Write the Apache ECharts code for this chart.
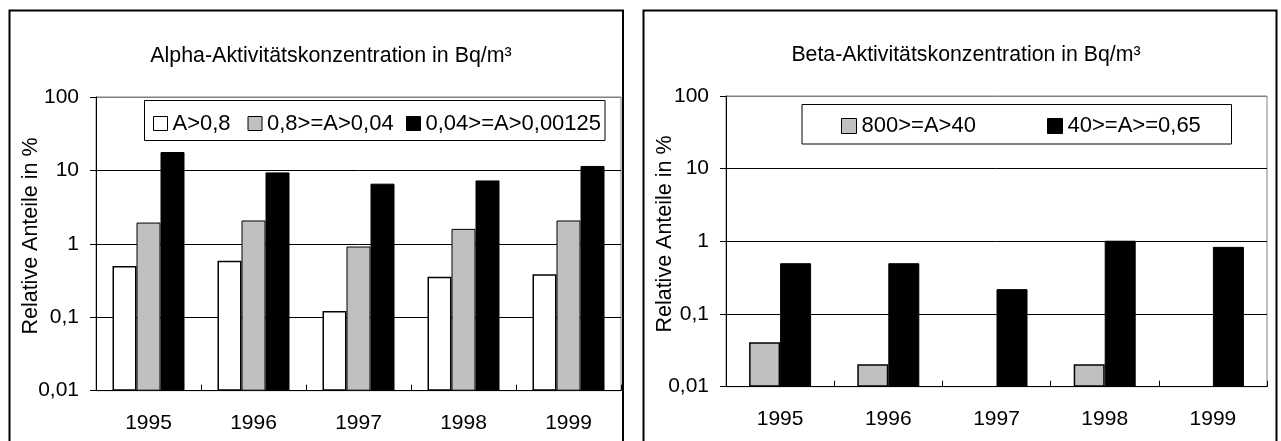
<!DOCTYPE html>
<html>
<head>
<meta charset="utf-8">
<script src="https://cdn.jsdelivr.net/npm/echarts@6/dist/echarts.min.js"></script>
<style>
  html, body { margin: 0; padding: 0; background: #fff; }
  #chart { width: 1281px; height: 441px; }
</style>
</head>
<body>
<div id="chart"></div>
<script>
// ---- data ----
const categories = ['1995', '1996', '1997', '1998', '1999'];
const alphaTitle = 'Alpha-Aktivitätskonzentration in Bq/m³';
const betaTitle = 'Beta-Aktivitätskonzentration in Bq/m³';
const yName = 'Relative Anteile in %';
const alphaNames = ['A>0,8', '0,8>=A>0,04', '0,04>=A>0,00125'];
const alphaWhite = [0.5, 0.59, 0.122, 0.355, 0.385];
const alphaGrey = [1.95, 2.08, 0.92, 1.6, 2.08];
const alphaBlack = [17.8, 9.4, 6.6, 7.3, 11.5];
const betaNames = ['800>=A>40', '40>=A>=0,65'];
const betaGrey = [0.041, 0.0203, null, 0.0203, null];
const betaBlack = [0.5, 0.5, 0.22, 1.02, 0.84];
const yTickValues = [0.01, 0.1, 1, 10, 100];
const yTickLabels = ['0,01', '0,1', '1', '10', '100'];

const FONT = '"Liberation Sans", Arial, Helvetica, sans-serif';
const WHITE = '#ffffff', GREY = '#c0c0c0', BLACK = '#000000';

function yLabel(v) {
  const i = yTickValues.findIndex(t => Math.abs(Math.log10(t) - Math.log10(v)) < 1e-6);
  return i >= 0 ? yTickLabels[i] : '';
}

function xAxisCfg(gridIndex) {
  return {
    type: 'category', gridIndex, data: categories, boundaryGap: true,
    axisLine: { lineStyle: { color: '#000', width: 1 } },
    axisTick: { show: true, inside: true, length: 6, lineStyle: { color: '#000' } },
    axisLabel: { color: '#000', fontSize: 21, fontFamily: FONT, margin: 22 },
    splitLine: { show: false }
  };
}
function yAxisCfg(gridIndex) {
  return {
    type: 'log', logBase: 10, gridIndex, min: 0.01, max: 100, startValue: 0.01,
    axisLine: { show: true, lineStyle: { color: '#000', width: 1 } },
    axisTick: { show: true, inside: false, length: 6, lineStyle: { color: '#000' } },
    minorTick: { show: false },
    axisLabel: { color: '#000', fontSize: 21, fontFamily: FONT, margin: 17, formatter: yLabel },
    splitLine: { show: true, lineStyle: { color: ['#000', '#000', '#000', '#000', '#808080'], width: 1 } }
  };
}
function barSeries(name, data, color, xi, width, bw) {
  return {
    type: 'bar', name, data, xAxisIndex: xi, yAxisIndex: xi,
    barWidth: width, barGap: '0%',
    itemStyle: { color, borderColor: '#000', borderWidth: bw },
    emphasis: { disabled: true },
    animation: false
  };
}
function legendItem(name, left, top, size) {
  return {
    data: [name], left, top, padding: 0, itemWidth: size, itemHeight: size,
    icon: 'rect', selectedMode: false, z: 6,
    itemStyle: { borderColor: '#000', borderWidth: 1 },
    textStyle: { color: '#000', fontSize: 22, fontFamily: FONT, lineHeight: size }
  };
}
function txt(text, x, y, rot, size) {
  return {
    type: 'text', x, y, rotation: rot, z: 10,
    style: { text, x: 0, y: 0, fill: '#000', fontSize: size, fontFamily: FONT,
             align: 'center', verticalAlign: 'middle', textAlign: 'center', textVerticalAlign: 'middle' }
  };
}

const chart = echarts.init(document.getElementById('chart'), null, { renderer: 'canvas' });
chart.setOption({
  animation: false,
  backgroundColor: '#fff',
  grid: [
    { left: 96, top: 97, width: 525, height: 293.7, show: true, borderColor: '#808080', borderWidth: 1, backgroundColor: 'transparent', containLabel: false },
    { left: 726, top: 96, width: 541, height: 290.7, show: true, borderColor: '#808080', borderWidth: 1, backgroundColor: 'transparent', containLabel: false }
  ],
  xAxis: [xAxisCfg(0), xAxisCfg(1)],
  yAxis: [yAxisCfg(0), yAxisCfg(1)],
  legend: [
    legendItem(alphaNames[0], 153, 112.5, 14),
    legendItem(alphaNames[1], 247.5, 112.5, 14),
    legendItem(alphaNames[2], 406, 112.5, 14),
    legendItem(betaNames[0], 841, 115, 15),
    legendItem(betaNames[1], 1047, 115, 15)
  ],
  series: [
    barSeries(alphaNames[0], alphaWhite, WHITE, 0, 24, 1.5),
    barSeries(alphaNames[1], alphaGrey, GREY, 0, 24, 1),
    barSeries(alphaNames[2], alphaBlack, BLACK, 0, 24, 1),
    barSeries(betaNames[0], betaGrey, GREY, 1, 31, 1.5),
    barSeries(betaNames[1], betaBlack, BLACK, 1, 31, 1)
  ],
  graphic: [
    { type: 'rect', z: 1, shape: { x: 9.5, y: 10.5, width: 613.5, height: 470 }, style: { fill: 'none', stroke: '#000', lineWidth: 2 } },
    { type: 'rect', z: 1, shape: { x: 643.5, y: 10.5, width: 633, height: 470 }, style: { fill: 'none', stroke: '#000', lineWidth: 2 } },
    { type: 'rect', z: 5, shape: { x: 144.5, y: 100.5, width: 460.5, height: 40 }, style: { fill: '#fff', stroke: '#000', lineWidth: 1 } },
    { type: 'rect', z: 5, shape: { x: 802, y: 104.5, width: 429.5, height: 39.5 }, style: { fill: '#fff', stroke: '#000', lineWidth: 1 } },
    txt(alphaTitle, 331, 56, 0, 21.4),
    txt(betaTitle, 966, 55, 0, 21.3),
    txt(yName, 30.7, 236, Math.PI / 2, 21.5),
    txt(yName, 664.6, 234, Math.PI / 2, 21.5)
  ]
});
</script>
</body>
</html>
